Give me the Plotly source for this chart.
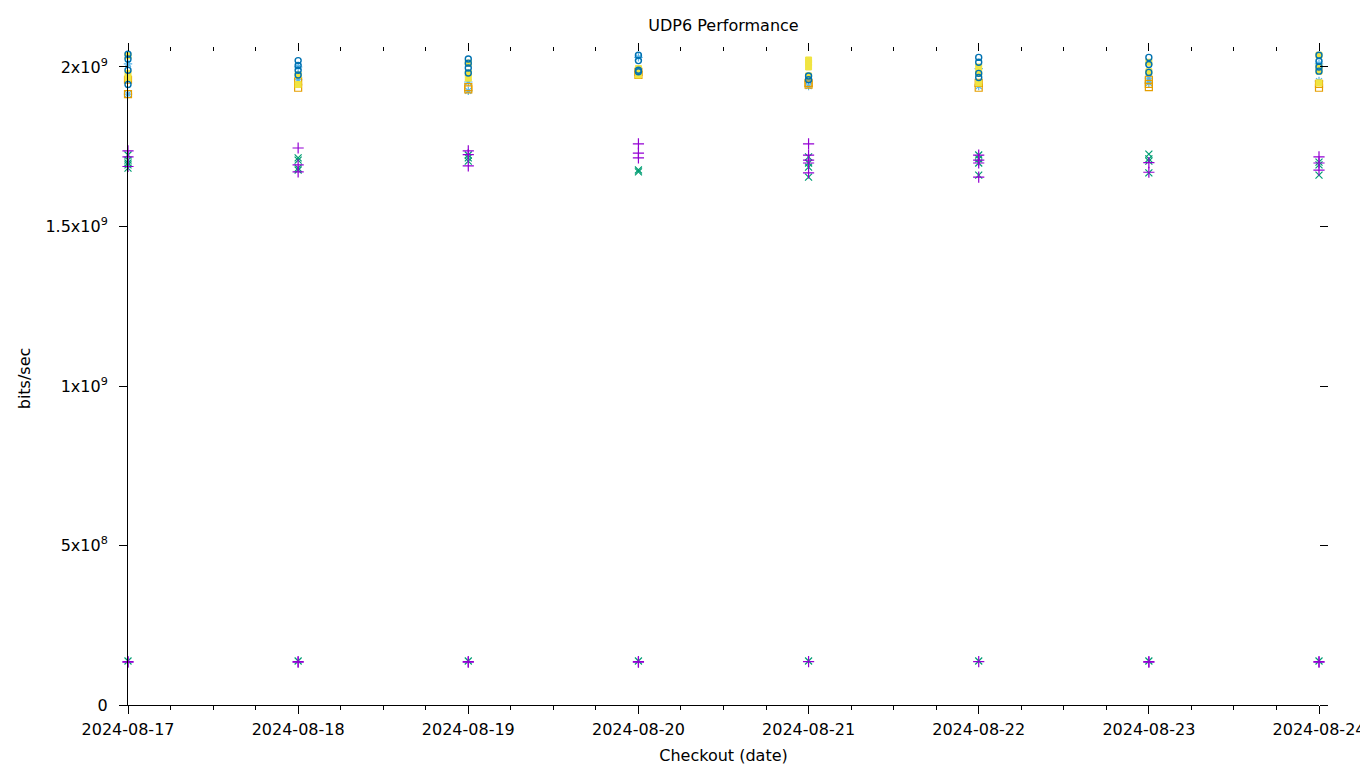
import plotly.graph_objects as go

dates = ["2024-08-17", "2024-08-18", "2024-08-19", "2024-08-20",
         "2024-08-21", "2024-08-22", "2024-08-23", "2024-08-24"]

# values per date (bits/sec)
purple_plus = [
    [1.737e9, 1.718e9, 1.688e9, 1.360e8, 1.340e8],
    [1.746e9, 1.693e9, 1.671e9, 1.360e8, 1.340e8],
    [1.737e9, 1.725e9, 1.690e9, 1.360e8, 1.340e8],
    [1.759e9, 1.730e9, 1.715e9, 1.360e8, 1.340e8],
    [1.759e9, 1.724e9, 1.708e9, 1.699e9, 1.668e9, 1.360e8],
    [1.724e9, 1.708e9, 1.699e9, 1.655e9, 1.360e8],
    [1.700e9, 1.670e9, 1.360e8, 1.340e8],
    [1.718e9, 1.699e9, 1.677e9, 1.360e8, 1.340e8],
]
green_x = [
    [1.724e9, 1.708e9, 1.699e9, 1.693e9, 1.683e9, 1.380e8],
    [1.715e9, 1.708e9, 1.683e9, 1.677e9, 1.380e8],
    [1.724e9, 1.715e9, 1.705e9, 1.380e8],
    [1.677e9, 1.671e9, 1.380e8],
    [1.718e9, 1.699e9, 1.686e9, 1.655e9, 1.380e8],
    [1.724e9, 1.712e9, 1.699e9, 1.661e9, 1.380e8],
    [1.727e9, 1.712e9, 1.705e9, 1.668e9, 1.380e8],
    [1.702e9, 1.693e9, 1.661e9, 1.380e8],
]
lightblue_star = [
    [1.915e9, 2.010e9],
    [1.960e9, 2.000e9],
    [1.953e9, 1.925e9],
    [1.985e9, 2.030e9],
    [1.956e9, 1.940e9],
    [1.940e9, 1.995e9],
    [1.950e9, 1.965e9],
    [1.956e9, 2.010e9],
]
orange_square = [
    [2.050e9, 1.960e9, 1.915e9],
    [1.955e9, 1.935e9],
    [1.937e9, 1.930e9],
    [1.975e9, 1.985e9],
    [1.950e9, 1.945e9],
    [1.950e9, 1.935e9],
    [1.960e9, 1.947e9, 1.937e9],
    [1.947e9, 1.935e9],
]
yellow_square = [
    [1.980e9, 1.965e9, 2.035e9],
    [1.975e9, 1.945e9],
    [1.981e9, 1.965e9, 2.012e9],
    [1.975e9, 1.995e9],
    [2.050e9, 2.022e9, 2.013e9, 2.000e9, 1.972e9],
    [2.000e9, 1.980e9, 1.950e9],
    [2.015e9, 1.985e9],
    [2.037e9, 2.000e9, 1.987e9, 1.950e9],
]
blue_circle = [
    [2.040e9, 2.025e9, 1.990e9, 1.945e9],
    [2.020e9, 2.005e9, 1.990e9, 1.975e9],
    [2.025e9, 2.012e9, 1.997e9, 1.981e9],
    [2.050e9, 2.037e9, 2.020e9, 1.990e9, 1.985e9],
    [1.972e9, 1.960e9],
    [2.030e9, 2.015e9, 1.980e9, 1.967e9],
    [2.030e9, 2.008e9, 1.983e9],
    [2.037e9, 2.018e9, 2.000e9, 1.987e9],
]

series = [
    (lightblue_star, "#56b4e9", "asterisk-open", 7, 1.2),
    (orange_square, "#e69f00", "square-open", 7, 1.2),
    (yellow_square, "#f0e442", "square", 6, 1.0),
    (blue_circle, "#0072b2", "circle-open", 6, 1.4),
    (green_x, "#009e73", "x-thin-open", 7, 1.2),
    (purple_plus, "#9400d3", "cross-thin-open", 8, 1.2),
]

fig = go.Figure()
for vals, color, sym, size, lw in series:
    xs, ys = [], []
    for d, vs in zip(dates, vals):
        for v in vs:
            xs.append(d)
            ys.append(v)
    fig.add_trace(go.Scatter(
        x=xs, y=ys, mode="markers", showlegend=False,
        marker=dict(symbol=sym, size=size, color=color,
                    line=dict(color=color, width=lw)),
        cliponaxis=False,
    ))

# dummy trace for mirrored axes
fig.add_trace(go.Scatter(x=[dates[0]], y=[0], xaxis="x2", yaxis="y2",
                         mode="markers", marker=dict(opacity=0),
                         showlegend=False, hoverinfo="skip"))

font = "DejaVu Sans"
fs = 16
ytickvals = [0, 5e8, 1e9, 1.5e9, 2e9]
yticktext = ["0", "5x10<sup>8</sup>", "1x10<sup>9</sup>",
             "1.5x10<sup>9</sup>", "2x10<sup>9</sup>"]
xrange = ["2024-08-17", "2024-08-24"]
yrange = [0, 2.047e9]
minor = dict(dtick=6 * 3600 * 1000, ticks="outside", ticklen=4,
             tickcolor="black", tickwidth=1)

fig.update_layout(
    width=1360, height=768,
    margin=dict(l=128, r=41, t=52, b=63, autoexpand=False),
    paper_bgcolor="white", plot_bgcolor="white",
    font=dict(family=font, size=fs, color="black"),
    title=dict(text="UDP6 Performance", xref="paper", x=0.5,
               xanchor="center", yref="container",
               y=1 - 25 / 768, yanchor="middle",
               font=dict(family=font, size=fs)),
    xaxis=dict(type="date", range=xrange, tickvals=dates, ticktext=dates,
               ticks="outside", ticklen=8, tickcolor="black", tickwidth=1,
               showline=True, linecolor="black", linewidth=1,
               showgrid=False, zeroline=False, minor=minor,
               automargin=False, ticklabeloverflow="allow",
               ticklabelstandoff=2,
               title=dict(text="Checkout (date)", standoff=11,
                          font=dict(family=font, size=fs)),
               tickfont=dict(family=font, size=fs)),
    yaxis=dict(range=yrange, tickvals=ytickvals, ticktext=yticktext,
               ticks="outside", ticklen=8, tickcolor="black", tickwidth=1,
               showline=True, linecolor="black", linewidth=1,
               showgrid=False, zeroline=False, automargin=False,
               ticklabelstandoff=8,
               title=dict(text="bits/sec", standoff=10,
                          font=dict(family=font, size=fs)),
               tickfont=dict(family=font, size=fs)),
    xaxis2=dict(type="date", range=xrange, tickvals=dates, overlaying="x",
                side="top", anchor="y", showticklabels=False,
                automargin=False,
                ticks="outside", ticklen=8, tickcolor="black", tickwidth=1,
                showline=False, showgrid=False, zeroline=False, minor=minor),
    yaxis2=dict(range=yrange, tickvals=ytickvals, overlaying="y",
                side="right", anchor="x", showticklabels=False,
                automargin=False,
                ticks="outside", ticklen=8, tickcolor="black", tickwidth=1,
                showline=False, showgrid=False, zeroline=False),
)

fig.write_html("out.html",
               config={"displayModeBar": False},
               post_script="document.body.style.margin='0';"
                           "document.body.style.overflow='hidden';")
